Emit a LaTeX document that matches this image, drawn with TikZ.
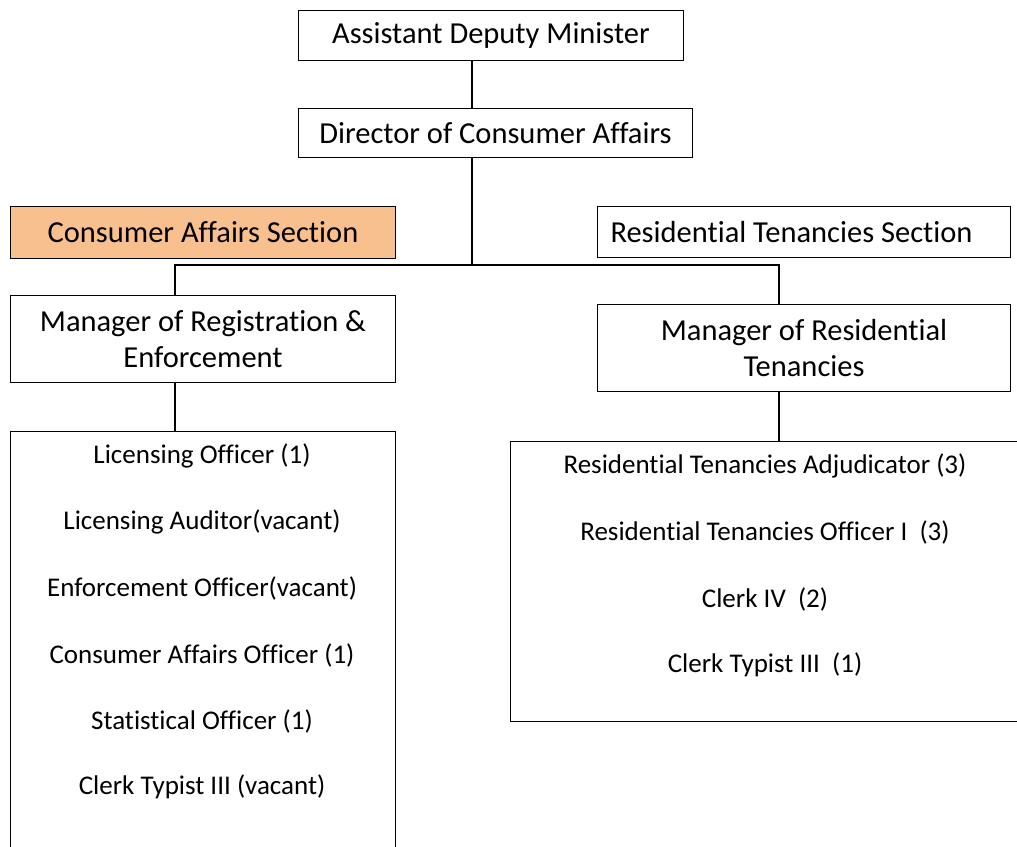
\documentclass[tikz,border=0pt]{standalone}
\usepackage{fontspec}
\setmainfont[Ligatures=NoCommon]{Carlito}
\definecolor{peach}{HTML}{F8C08F}
\begin{document}
\begin{tikzpicture}[x=1pt,y=-1pt,
  box/.style={draw=black, line width=1pt, align=center, inner sep=0pt, anchor=north west, font=\fontsize{30.5}{36}\selectfont},
  staffbox/.style={draw=black, line width=1pt, inner sep=0pt, anchor=north west},
  stafftext/.style={font=\fontsize{27}{32}\selectfont, inner sep=0pt, anchor=center},
  conn/.style={line width=2pt}]
\useasboundingbox (0,0) rectangle (1017,846);
\clip (0,0) rectangle (1017,846);
\node[box, minimum width=385pt, minimum height=50pt] (adm) at (298,10) {Assistant Deputy Minister};
\node[box, minimum width=394pt, minimum height=49pt] (dir) at (298,108) {Director of Consumer Affairs};
\node[box, fill=peach, minimum width=385pt, minimum height=52pt] (cas) at (10,206) {Consumer Affairs Section};
\node[box, minimum width=413pt, minimum height=51pt] (rts) at (597,206) {\makebox[387pt][l]{Residential Tenancies Section}};
\node[box, minimum width=385pt, minimum height=87pt] (mre) at (10,295) {Manager of Registration \&\\Enforcement};
\node[box, minimum width=413pt, minimum height=87pt] (mrt) at (597,304) {Manager of Residential\\Tenancies};
\node[staffbox, minimum width=385pt, minimum height=440pt] (ls) at (10,431) {};
\node[staffbox, minimum width=520pt, minimum height=280pt] (rs) at (510,441) {};
\node[stafftext] (l1) at (202,456) {Licensing Officer (1)};
\node[stafftext] (l2) at (202,522) {Licensing Auditor(vacant)};
\node[stafftext] (l3) at (202,588) {Enforcement Officer(vacant)};
\node[stafftext] (l4) at (202,655) {Consumer Affairs Officer (1)};
\node[stafftext] (l5) at (202,721) {Statistical Officer (1)};
\node[stafftext] (l6) at (202,787) {Clerk Typist III (vacant)};
\node[stafftext] (r1) at (765,466) {Residential Tenancies Adjudicator (3)};
\node[stafftext] (r2) at (765,532) {Residential Tenancies Officer I\ \ (3)};
\node[stafftext] (r3) at (765,599) {Clerk IV\ \ (2)};
\node[stafftext] (r4) at (765,665) {Clerk Typist III\ \ (1)};
\coordinate (jx) at (472,265);
\coordinate (bl) at (175,265);
\coordinate (br) at (779,265);
\draw[conn] (jx |- adm.south) -- (jx |- dir.north);
\draw[conn] (jx |- dir.south) -- (jx);
\draw[conn] (bl |- mre.north) -- (bl) -- (br) -- (br |- mrt.north);
\draw[conn] (bl |- mre.south) -- (bl |- ls.north);
\draw[conn] (br |- mrt.south) -- (br |- rs.north);
\end{tikzpicture}
\end{document}
